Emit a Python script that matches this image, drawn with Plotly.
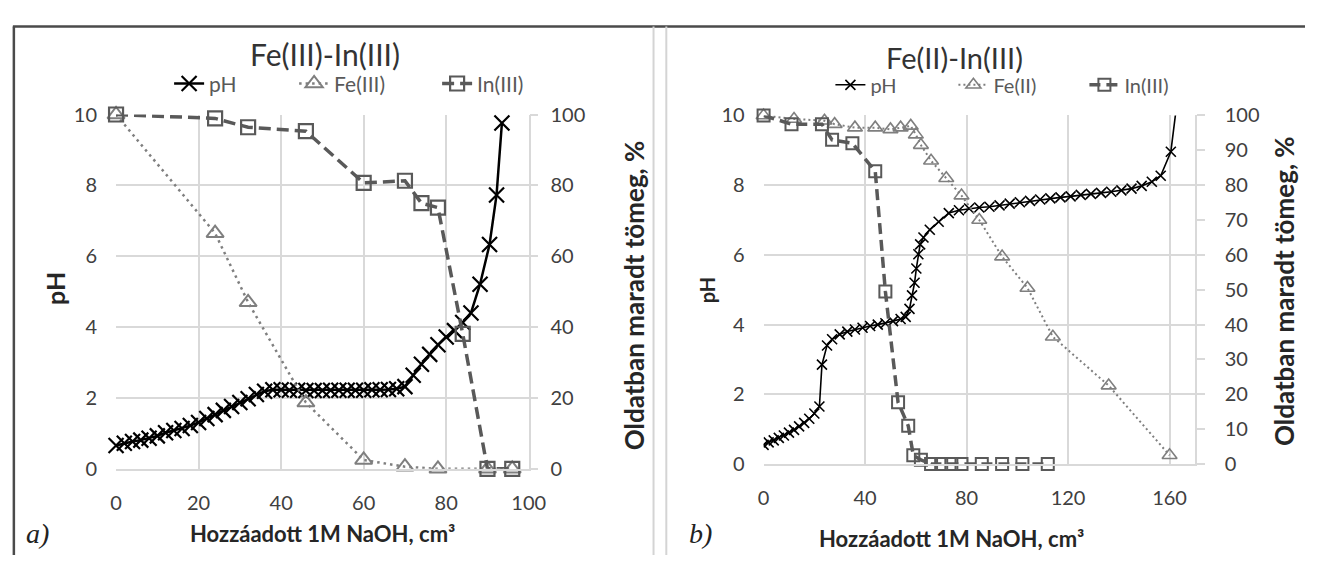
import plotly.graph_objects as go

W, H = 1322, 566

# ---------------- Panel a) Fe(III)-In(III) ----------------
a_ph_x = [0, 2, 4, 6, 8, 10, 12, 14, 16, 18, 20, 22, 24, 26, 28, 30, 32, 34, 36, 38,
          40, 42, 44, 46, 48, 50, 52, 54, 56, 58, 60, 62, 64, 66, 68,
          70, 72, 74, 76, 78, 80, 82, 84, 86, 88.2, 90.5, 92.2, 93.5]
a_ph_y = [0.66, 0.72, 0.77, 0.81, 0.86, 0.93, 1.02, 1.08, 1.14, 1.22, 1.31, 1.42, 1.53, 1.65,
          1.76, 1.87, 1.98, 2.10, 2.19, 2.23,
          2.23, 2.22, 2.22, 2.21, 2.21, 2.21, 2.22, 2.22, 2.22, 2.22, 2.22, 2.23, 2.23, 2.24, 2.26,
          2.32, 2.64, 2.95, 3.23, 3.50, 3.72, 3.90, 4.13, 4.40, 5.21, 6.33, 7.73, 9.76]
a_fe_x = [0, 24, 32, 46, 60, 70, 78, 90, 96]
a_fe_y = [100, 66.5, 47, 18.7, 2.5, 0.6, 0, 0, 0]
a_in_x = [0, 24, 32, 46, 60, 70, 74, 78, 84, 90, 96]
a_in_y = [100, 98.9, 96.4, 95.3, 80.7, 81.3, 75, 73.7, 38.1, 0, 0]

# ---------------- Panel b) Fe(II)-In(III) ----------------
b_ph_x = [0, 2, 4, 6, 8, 10, 12, 14, 16, 18, 20, 22, 23, 25, 27, 30, 33, 36, 39, 42, 45, 48,
          51, 54, 56, 57.5, 58.5, 59.5, 60.2, 61, 61.7, 63, 65.5, 69, 73, 77, 81, 85, 89, 93,
          97, 101, 105, 109, 113, 117, 121, 125, 129, 133, 137, 141, 145, 149, 153, 156.5,
          160.5, 164]
b_ph_y = [0.55, 0.62, 0.68, 0.75, 0.82, 0.90, 0.98, 1.08, 1.18, 1.30, 1.45, 1.65, 2.85, 3.40,
          3.58, 3.72, 3.80, 3.86, 3.91, 3.96, 4.00, 4.04, 4.10, 4.16, 4.22, 4.45, 4.84, 5.20,
          5.61, 6.02, 6.30, 6.50, 6.72, 6.95, 7.20, 7.28, 7.33, 7.36, 7.38, 7.42, 7.47, 7.51,
          7.55, 7.59, 7.62, 7.65, 7.68, 7.72, 7.75, 7.78, 7.81, 7.85, 7.90, 7.98, 8.10, 8.27,
          8.96, 11.0]
b_fe_x = [0, 12, 24, 28, 36, 44, 50, 54, 58, 60, 62, 66, 72, 78, 85, 94, 104, 114, 136, 160]
b_fe_y = [100, 99, 98.5, 97.5, 96.5, 96.5, 96, 96.5, 97, 94.5, 91.5, 87, 82, 77, 70, 59.5,
          50.5, 36.5, 22.5, 2.5]
b_in_x = [0, 11, 23, 27, 35, 44, 48, 53, 57, 59, 62, 66, 70, 74, 78, 86, 94, 102, 112]
b_in_y = [100, 97.5, 97.5, 93, 92, 84, 49.5, 17.7, 11, 2.5, 1.2, 0, 0, 0, 0, 0, 0, 0, 0]

a_titles = ["Fe(III)-In(III)", "pH", "Fe(III)", "In(III)"]
b_titles = ["Fe(II)-In(III)", "pH", "Fe(II)", "In(III)"]
x_title = "Hozzáadott 1M NaOH, cm³"
y_title = "pH"
y2_title = "Oldatban maradt tömeg, %"

FONT = "Lato"
GRID = "#d9d9d9"
TICKC = "#404040"


def px(x):
    return x / W


def py(y):
    return 1 - y / H


fig = go.Figure()

# panel a traces
fig.add_trace(go.Scatter(x=a_ph_x, y=a_ph_y, name=a_titles[1], xaxis="x", yaxis="y",
                         mode="lines+markers", cliponaxis=False, legendwidth=80,
                         line=dict(color="black", width=2.5),
                         marker=dict(symbol="x-thin", size=15, line=dict(color="black", width=2.2)),
                         legend="legend"))
fig.add_trace(go.Scatter(x=a_fe_x, y=a_fe_y, name=a_titles[2], xaxis="x", yaxis="y2",
                         mode="lines+markers", cliponaxis=False, legendwidth=98,
                         line=dict(color="#7f7f7f", width=2.5, dash="2.5px,4px"),
                         marker=dict(symbol="triangle-up-open", size=15,
                                     line=dict(color="#5e5e5e", width=2)),
                         legend="legend"))
fig.add_trace(go.Scatter(x=a_in_x, y=a_in_y, name=a_titles[3], xaxis="x", yaxis="y2",
                         mode="lines+markers", cliponaxis=False,
                         line=dict(color="#595959", width=3.5, dash="12px,6px"),
                         marker=dict(symbol="square-open", size=14,
                                     line=dict(color="#595959", width=2.2)),
                         legend="legend"))

# panel b traces
fig.add_trace(go.Scatter(x=b_ph_x, y=b_ph_y, name=b_titles[1], xaxis="x2", yaxis="y3",
                         mode="lines+markers", cliponaxis=True, legendwidth=78,
                         line=dict(color="black", width=1.6),
                         marker=dict(symbol="x-thin", size=10, line=dict(color="black", width=1.6)),
                         legend="legend2"))
fig.add_trace(go.Scatter(x=b_fe_x, y=b_fe_y, name=b_titles[2], xaxis="x2", yaxis="y4",
                         mode="lines+markers", cliponaxis=False, legendwidth=86,
                         line=dict(color="#7f7f7f", width=2, dash="2px,3px"),
                         marker=dict(symbol="triangle-up-open", size=13,
                                     line=dict(color="#5e5e5e", width=1.6)),
                         legend="legend2"))
fig.add_trace(go.Scatter(x=b_in_x, y=b_in_y, name=b_titles[3], xaxis="x2", yaxis="y4",
                         mode="lines+markers", cliponaxis=False,
                         line=dict(color="#595959", width=3.5, dash="11px,6px"),
                         marker=dict(symbol="square-open", size=12,
                                     line=dict(color="#595959", width=2)),
                         legend="legend2"))

tickfont = dict(family=FONT, size=20, color=TICKC)

common_x = dict(showgrid=True, gridcolor=GRID, gridwidth=1.5, zeroline=False,
                showline=True, linecolor=GRID, linewidth=1.5, ticks="",
                tickfont=tickfont, ticklabelstandoff=15)
common_y = dict(showgrid=True, gridcolor=GRID, gridwidth=1.5, zeroline=False,
                showline=False, ticks="", tickfont=tickfont, ticklabelstandoff=18)
common_y2 = dict(showgrid=False, zeroline=False, showline=True, linecolor=GRID, linewidth=1.5,
                 ticks="outside", ticklen=8, tickcolor=GRID, tickwidth=1.5,
                 tickfont=tickfont, side="right")

fig.update_layout(
    width=W, height=H, autosize=False,
    margin=dict(l=0, r=0, t=0, b=0),
    paper_bgcolor="white", plot_bgcolor="white",
    font=dict(family=FONT, color=TICKC),
    xaxis=dict(domain=[px(112), px(532)], range=[0, 100], dtick=20, anchor="y", **common_x),
    yaxis=dict(domain=[py(476), py(106)], range=[0, 10], dtick=2, anchor="x", **common_y),
    yaxis2=dict(domain=[py(476), py(106)], range=[0, 100], dtick=20, overlaying="y",
                anchor="x", ticklabelstandoff=8, **common_y2),
    xaxis2=dict(domain=[px(771), px(1210)], range=[0, 170], dtick=40, anchor="y3", **common_x),
    yaxis3=dict(domain=[py(471), py(107)], range=[0, 10], dtick=2, anchor="x2", **common_y),
    yaxis4=dict(domain=[py(471), py(107)], range=[0, 100], dtick=10, overlaying="y3",
                anchor="x2", ticklabelstandoff=16, **common_y2),
    legend=dict(orientation="h", x=px(166), y=py(74), xanchor="left", yanchor="middle",
                font=dict(family=FONT, size=21, color="#595959"), bgcolor="rgba(0,0,0,0)",
                itemwidth=30, tracegroupgap=0),
    legend2=dict(orientation="h", x=px(839), y=py(75), xanchor="left", yanchor="middle",
                 font=dict(family=FONT, size=20, color="#595959"), bgcolor="rgba(0,0,0,0)",
                 itemwidth=30, tracegroupgap=0),
    showlegend=True,
)


def ann(text, x, y, size, bold=False, angle=0, color="#262626", family=FONT, italic=False):
    t = text
    if bold:
        t = "<b>" + t + "</b>"
    if italic:
        t = "<i>" + t + "</i>"
    fig.add_annotation(text=t, x=px(x), y=py(y), xref="paper", yref="paper",
                       xanchor="center", yanchor="middle", showarrow=False,
                       textangle=angle, font=dict(family=family, size=size, color=color))


ann(a_titles[0], 325, 43, 30, color="#333333")
ann(b_titles[0], 965, 46, 29, color="#333333")
ann(x_title, 322, 544, 22, bold=True)
ann(x_title, 962, 549, 22, bold=True)
ann(y_title, 50, 288, 25, bold=True, angle=-90)
ann(y_title, 713, 290, 20, bold=True, angle=-90)
ann(y2_title, 640, 295, 26, bold=True, angle=-90)
ann(y2_title, 1300, 290, 26, bold=True, angle=-90)
ann("a)", 32, 544, 28, family="Liberation Serif", italic=True, color="#222222")
ann("b)", 707, 544, 28, family="Liberation Serif", italic=True, color="#222222")

# panel frames
frame = [
    dict(x0=7, x1=W, y0=14, y1=14, color="#4a4a4a", w=2.5),
    dict(x0=8, x1=8, y0=14, y1=H, color="#4a4a4a", w=2.5),
    dict(x0=659, x1=659, y0=14, y1=H, color="#d4d4d4", w=2),
    dict(x0=672, x1=672, y0=14, y1=H, color="#d4d4d4", w=2),
]
for f in frame:
    fig.add_shape(type="line", xref="paper", yref="paper",
                  x0=px(f["x0"]), x1=px(f["x1"]), y0=py(f["y0"]), y1=py(f["y1"]),
                  line=dict(color=f["color"], width=f["w"]))

fig.write_html("out.html", config={"displayModeBar": False})
